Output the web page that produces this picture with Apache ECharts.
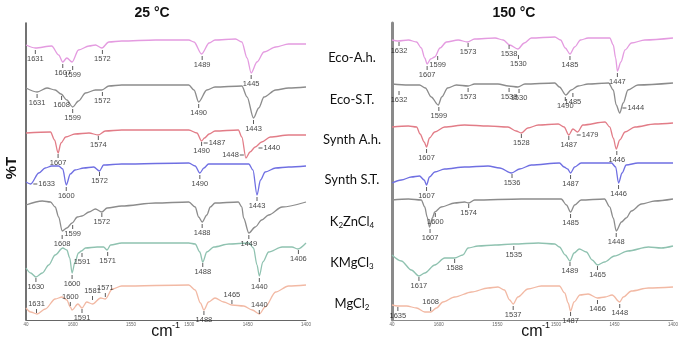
<!DOCTYPE html>
<html>
<head>
<meta charset="utf-8">
<script src="https://cdn.jsdelivr.net/npm/echarts@6/dist/echarts.min.js"></script>
<style>
  html, body { margin: 0; padding: 0; background: #fff; }
  #chart { width: 686px; height: 341px; }
</style>
</head>
<body>
<div id="chart"></div>
<script>
// x: wavenumber (cm-1), y: stacked %T (height above the axis, traces offset)
const tickValues = [1640, 1600, 1550, 1500, 1450, 1400];
const samples = ['Eco-A.h.', 'Eco-S.T.', 'Synth A.h.', 'Synth S.T.', 'K2ZnCl4', 'KMgCl3', 'MgCl2'];
const colors = ['#e49be0', '#8c8c8c', '#e27c87', '#6f6fe2', '#8c8c8c', '#8fc2b0', '#f2b9a4'];

// ---- 25 °C ----
const ecoAh25 = [[1640,275],[1632,272],[1618,274],[1612,265],[1608.5,258],[1605,262],[1600.5,258],[1595,270],[1586,274],[1580.5,275],[1575,272],[1569,278],[1558,279],[1529,280],[1500.5,280],[1496,278],[1489.5,266],[1483,277],[1478,280],[1460.5,281],[1455,278],[1450.5,262],[1447,247],[1442,258],[1436,268],[1426,273],[1415,276],[1400,276]];
const ecoSt25 = [[1640,232],[1630.5,228],[1622,232],[1615,230],[1610,226],[1605,220],[1600,213],[1595,219],[1589,227],[1580.5,230],[1575,230],[1569,234],[1558,235],[1500.5,235],[1496,230],[1492,218],[1485,230],[1478,233],[1455,234],[1450.5,223],[1445,202],[1440.5,212],[1436,223],[1426,230],[1415,232],[1400,233]];
const synthAh25 = [[1640,187],[1619,188],[1615.5,180],[1612.5,167],[1610,177],[1606,183],[1598,186],[1586,187],[1578,185],[1572,189],[1558,190],[1500.5,190],[1493.5,187],[1489.5,179],[1487,182],[1483,186],[1478,189],[1458,190],[1455,183],[1451.5,162],[1448,168],[1443.5,173],[1438,178],[1430.5,183],[1415,185],[1400,185]];
const synthSt25 = [[1640,138],[1636,136],[1629,147],[1623.5,152],[1618,154],[1612,154],[1608.5,151],[1605.5,135],[1602,146],[1598,150],[1590.5,152],[1582,153],[1577,149],[1573.5,155],[1558,156],[1500.5,157],[1495,154],[1491,147],[1487.5,152],[1483.5,156],[1449,156],[1445.5,150],[1442,125],[1439,140],[1435,148],[1426,152],[1415,153],[1400,154]];
const k2zn25 = [[1640,115],[1626,119],[1619,118],[1615,113],[1612,103],[1609,89],[1605,92],[1600.5,97],[1596,103],[1592,104],[1586,108],[1580.5,111],[1575,108],[1570.5,112],[1558,114],[1529,117],[1500.5,118],[1495,113],[1492,103],[1489,98],[1485,105],[1482,113],[1478,117],[1458,118],[1455,113],[1453.5,102],[1449,87],[1443.5,93],[1438,100],[1432,105],[1420.5,113],[1400,118]];
const kmg25 = [[1640,52],[1636,47],[1631.5,43],[1626,47],[1620.5,55],[1615,65],[1608.5,72],[1605,70],[1602.5,62],[1600.5,47],[1598,58],[1595,67],[1592.5,69],[1589,72],[1579,73],[1573.5,73],[1570.5,70],[1567.5,75],[1558,77],[1500.5,77],[1495,76],[1491,68],[1488.5,58],[1485,68],[1479,73],[1466,76],[1449,77],[1445,72],[1442,55],[1440,44],[1437,58],[1432,68],[1420.5,73],[1412,73],[1407,71],[1400,77]];
const mg25 = [[1640,12],[1636,8],[1630.5,6],[1623.5,11],[1615,21],[1609,23],[1605,20],[1602,13],[1600.5,10],[1595.5,16],[1592,12],[1588,18],[1583,16],[1576,22],[1572,21],[1566,31],[1558,34],[1500.5,35],[1495,30],[1490.5,17],[1487.5,10],[1483.5,18],[1478,22],[1470.5,18],[1463.5,15],[1453.5,14],[1446,10],[1440,6],[1435,13],[1426,28],[1415,34],[1400,35]];

const ecoAh25Peaks = [[1632,268,'1631'],[1608.5,254,'1607'],[1600,252,'1599'],[1574.5,268,'1572'],[1489,262,'1489'],[1447,243,'1445']];
const ecoSt25Peaks = [[1630.5,224,'1631'],[1609.5,222,'1608'],[1600,209,'1599'],[1574.5,226,'1572'],[1492,214,'1490'],[1445,198,'1443']];
const synthAh25Peaks = [[1612.5,164,'1607'],[1578,182,'1574'],[1489.5,176,'1490'],[1486,177,'1487'],[1455,165,'1448'],[1439,172,'1440']];
const synthSt25Peaks = [[1632,136,'1633'],[1605.5,131,'1600'],[1577,146,'1572'],[1491,143,'1490'],[1442,121,'1443']];
const k2zn25Peaks = [[1609,83,'1608'],[1600,93,'1599'],[1575,105,'1572'],[1489,94,'1488'],[1449,83,'1449']];
const kmg25Peaks = [[1631.5,40,'1630'],[1600.5,43,'1600'],[1592,65,'1591'],[1570,66,'1571'],[1488.5,55,'1488'],[1440,40,'1440'],[1406.5,68,'1406']];
const mg25Peaks = [[1631,9,'1631'],[1602,16,'1600'],[1592,9,'1591'],[1583,22,'1581'],[1572,25,'1571'],[1487.5,7,'1488'],[1463.5,18,'1465'],[1440,8,'1440']];

// ---- 150 °C ----
const ecoAh150 = [[1640,280],[1635,279],[1626,280],[1619,278],[1615,272],[1612,262],[1610,256],[1607,261],[1603.5,263],[1599,272],[1593.5,278],[1583.5,280],[1575.5,278],[1569.5,281],[1552,282],[1545,280],[1539.5,275],[1532.5,271],[1527,277],[1521,282],[1501,283],[1496,280],[1492,272],[1488,266],[1484,273],[1479,280],[1472.5,282],[1454,282],[1451,275],[1449,262],[1447.5,249],[1444.5,258],[1441,270],[1435.5,277],[1424,280],[1400,282]];
const ecoSt150 = [[1640,236],[1626,235],[1616.5,235],[1611.5,232],[1606.5,223],[1600.5,215],[1597.5,223],[1592.5,232],[1585,235],[1575,234],[1569.5,236],[1549.5,236],[1540.5,234],[1532.5,233],[1526.5,236],[1501,237],[1497,233],[1491.5,225],[1487,230],[1481,234],[1472.5,236],[1455,237],[1451,230],[1448.5,215],[1445.5,207],[1442.5,217],[1438.5,230],[1430,235],[1400,237]];
const synthAh150 = [[1640,193],[1626,194],[1619,193],[1616,186],[1612.5,178],[1610.5,173],[1608,182],[1603.5,188],[1595,193],[1578,195],[1558,194],[1541,193],[1534,189],[1529.5,187],[1524,192],[1515,195],[1498,196],[1493,193],[1489,185],[1485.5,191],[1481.5,188],[1477,195],[1458,198],[1454,193],[1451,182],[1448.5,171],[1445.5,180],[1441,188],[1432.5,193],[1415.5,196],[1400,197]];
const synthSt150 = [[1640,137],[1632,140],[1623.5,143],[1616.5,144],[1612.5,140],[1610.5,135],[1608,143],[1603.5,148],[1595,151],[1578,153],[1558,154],[1548,152],[1538,147],[1531,151],[1521,155],[1497,157],[1493,153],[1490,151],[1487.5,147],[1484,153],[1478.5,157],[1452.5,157],[1449,153],[1446.5,137],[1443.5,147],[1440,155],[1430,157],[1400,157]];
const k2zn150 = [[1640,120],[1626,121],[1615,120],[1612,113],[1610,103],[1608,93],[1605.5,102],[1603.5,108],[1598,113],[1586.5,117],[1578,118],[1574.5,117],[1569.5,120],[1529.5,121],[1495.5,121],[1491,115],[1487.5,108],[1484,115],[1478.5,120],[1458.5,121],[1454,113],[1451,102],[1448.5,89],[1444,98],[1440,102],[1435.5,109],[1427,116],[1415.5,119],[1400,121]];
const kmg150 = [[1640,65],[1632,59],[1623.5,50],[1617,44],[1612,47],[1603.5,55],[1595,62],[1586.5,62],[1579.5,65],[1575,72],[1566.5,74],[1552,75],[1536,76],[1515,77],[1501,76],[1497,73],[1492,65],[1488,59],[1484.5,67],[1480,71],[1474,68],[1469,60],[1464.5,55],[1458.5,58],[1450,64],[1438.5,69],[1421,73],[1410,72],[1400,74]];
const mg150 = [[1640,15],[1635,14],[1627.5,14],[1619,12],[1612,8],[1607,8],[1602,12],[1596.5,18],[1586.5,23],[1572,28],[1558,32],[1549.5,33],[1544,30],[1539.5,20],[1536.5,16],[1532.5,23],[1524,31],[1512.5,34],[1497,34],[1492.5,27],[1489.5,17],[1487.5,9],[1484.5,18],[1479.5,25],[1472.5,26],[1464.5,22],[1458,23],[1452,25],[1445.5,18],[1442.5,23],[1435.5,29],[1421,32],[1400,33]];

const ecoAh150Peaks = [[1634,276,'1632'],[1610,252,'1607'],[1601,262,'1599'],[1575,275,'1573'],[1540,273,'1538'],[1532,263,'1530'],[1488,262,'1485'],[1447.5,245,'1447']];
const ecoSt150Peaks = [[1634,227,'1632'],[1600,211,'1599'],[1575,230,'1573'],[1540,230,'1538'],[1531.5,229,'1530'],[1492,221,'1490'],[1485.5,225,'1485'],[1441.5,212,'1444']];
const synthAh150Peaks = [[1610.5,169,'1607'],[1529.5,184,'1528'],[1489,182,'1487'],[1480.5,185,'1479'],[1448,167,'1446']];
const synthSt150Peaks = [[1610.5,131,'1607'],[1537.5,144,'1536'],[1487.5,143,'1487'],[1446.5,133,'1446']];
const k2zn150Peaks = [[1607.5,89,'1607'],[1603,105,'1600'],[1574.5,114,'1574'],[1487.5,104,'1485'],[1448.5,85,'1448']];
const kmg150Peaks = [[1617,41,'1617'],[1586.5,59,'1588'],[1536,72,'1535'],[1488,56,'1489'],[1464.5,52,'1465']];
const mg150Peaks = [[1635,11,'1635'],[1607,11,'1608'],[1536.5,12,'1537'],[1487.5,6,'1487'],[1464.5,18,'1466'],[1445.5,14,'1448']];

// labels that are not placed under their tick
const labelSides = {
  p25: { 'Synth A.h.': { 1487: 'right', 1440: 'right', 1448: 'left' }, 'Synth S.T.': { 1633: 'right' },
         'MgCl2': { 1631: 'top', 1600: 'top', 1581: 'top', 1571: 'top', 1465: 'top', 1440: 'top' } },
  p150: { 'Eco-S.T.': { 1444: 'right' }, 'Synth A.h.': { 1479: 'right' }, 'MgCl2': { 1608: 'top' } }
};

const traces25 = [ecoAh25, ecoSt25, synthAh25, synthSt25, k2zn25, kmg25, mg25];
const peaks25 = [ecoAh25Peaks, ecoSt25Peaks, synthAh25Peaks, synthSt25Peaks, k2zn25Peaks, kmg25Peaks, mg25Peaks];
const traces150 = [ecoAh150, ecoSt150, synthAh150, synthSt150, k2zn150, kmg150, mg150];
const peaks150 = [ecoAh150Peaks, ecoSt150Peaks, synthAh150Peaks, synthSt150Peaks, k2zn150Peaks, kmg150Peaks, mg150Peaks];

const series = [];
function addPanel(p, traces, peaks, sides) {
  traces.forEach((pts, i) => {
    series.push({
      type: 'line', xAxisIndex: p, yAxisIndex: p, data: pts,
      smooth: 0.3, smoothMonotone: 'x', showSymbol: false, silent: true,
      lineStyle: { color: colors[i], width: 1.3 }, z: 2
    });
    const side = sides[samples[i]] || {};
    series.push({
      type: 'scatter', xAxisIndex: p, yAxisIndex: p, silent: true, clip: false, z: 3,
      symbol: 'rect', itemStyle: { color: '#333' },
      data: peaks[i].map(d => {
        const pos = side[d[2]] || 'bottom';
        const flat = pos === 'right' || pos === 'left';
        return { value: d, symbolSize: flat ? [4, 1] : [1, 4], label: { position: pos } };
      }),
      label: {
        show: true, formatter: q => q.value[2], fontSize: 7.5, color: '#111',
        fontFamily: 'Liberation Sans', distance: 1
      }
    });
  });
}
addPanel(0, traces25, peaks25, labelSides.p25);
addPanel(1, traces150, peaks150, labelSides.p150);

function xAxisFor(idx, lineColor) {
  return {
    gridIndex: idx, type: 'value', inverse: true, min: 1400, max: 1640, interval: 10,
    axisLine: { lineStyle: { color: lineColor, width: 1 } },
    axisTick: { show: false }, splitLine: { show: false },
    axisLabel: {
      fontSize: 4.5, color: '#666', margin: 2, fontFamily: 'Liberation Sans',
      formatter: v => tickValues.includes(v) ? (v === 1640 ? '40' : String(v)) : ''
    }
  };
}
function yAxisFor(idx, lineColor, w) {
  return {
    gridIndex: idx, type: 'value', min: 0, max: 297,
    axisLine: { show: true, lineStyle: { color: lineColor, width: w } },
    axisTick: { show: false }, axisLabel: { show: false }, splitLine: { show: false }
  };
}

const txt = (x, y, text, size, bold, extra) => Object.assign({
  type: 'text', x: x, y: y, silent: true,
  style: { text: text, fontSize: size, fontWeight: bold ? 'bold' : 'normal', fontFamily: 'Liberation Sans',
           fill: '#111', align: 'center', verticalAlign: 'middle' }
}, extra || {});

const nameY = [58, 100, 140, 180, 222, 263, 304];
const nameText = ['Eco-A.h.', 'Eco-S.T.', 'Synth A.h.', 'Synth S.T.', 'K{s|2}ZnCl{s|4}', 'KMgCl{s|3}', 'MgCl{s|2}'];
const graphics = [
  txt(152, 13, '25 °C', 14, true),
  txt(514, 13, '150 °C', 14, true),
  txt(12, 168, '%T', 15, true, { rotation: Math.PI / 2 }),
  txt(162, 332, 'cm', 16, false),
  txt(176, 326, '-1', 9, false),
  txt(532, 332, 'cm', 16, false),
  txt(546, 326, '-1', 9, false)
];
nameText.forEach((t, i) => {
  graphics.push({
    type: 'text', x: 352, y: nameY[i], silent: true,
    style: {
      text: t, fontSize: 13, fontFamily: 'Lato', fill: '#111', align: 'center', verticalAlign: 'middle',
      rich: { s: { fontSize: 8, fontFamily: 'Lato', fill: '#111', padding: [7, 0, 0, 0] } }
    }
  });
});

const chart = echarts.init(document.getElementById('chart'));
chart.setOption({
  animation: false,
  grid: [
    { left: 26, right: 380, top: 23, bottom: 21 },
    { left: 392, right: 13, top: 23, bottom: 21 }
  ],
  xAxis: [xAxisFor(0, '#666'), xAxisFor(1, '#888')],
  yAxis: [yAxisFor(0, '#444', 1.5), yAxisFor(1, '#8a8a8a', 3)],
  graphic: graphics,
  series: series
});
</script>
</body>
</html>
